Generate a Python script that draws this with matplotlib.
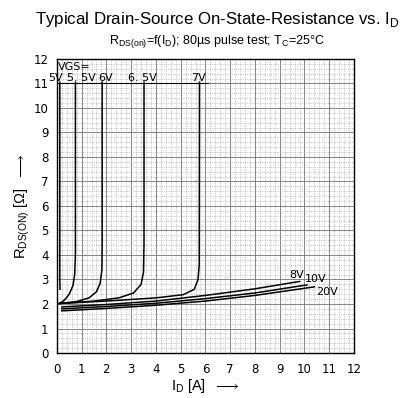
import numpy as np
import matplotlib
matplotlib.use('Agg')
from matplotlib import pyplot as plt
from matplotlib.ticker import MultipleLocator

plt.rcParams['font.family'] = ['Liberation Sans Narrow', 'DejaVu Sans']
plt.rcParams['mathtext.fontset'] = 'custom'
plt.rcParams['mathtext.rm'] = 'Liberation Sans'

# curves: (I_D [A], R_DS(on) [Ohm])
vgs_5v_x = [0.13, 0.12, 0.12]
vgs_5v_y = [2.6, 3.0, 11.05]
vgs_55_x = [0.10, 0.30, 0.50, 0.65, 0.72, 0.75, 0.75]
vgs_55_y = [2.02, 2.15, 2.40, 2.75, 3.20, 4.00, 11.05]
vgs_6v_x = [0.10, 0.80, 1.30, 1.60, 1.75, 1.82, 1.83, 1.83]
vgs_6v_y = [2.02, 2.10, 2.25, 2.50, 2.85, 3.40, 4.50, 11.05]
vgs_65_x = [0.10, 1.50, 2.50, 3.10, 3.40, 3.50, 3.52, 3.52]
vgs_65_y = [2.02, 2.12, 2.25, 2.45, 2.80, 3.30, 4.50, 11.05]
vgs_7v_x = [0.10, 2.00, 4.00, 5.10, 5.55, 5.70, 5.75, 5.76]
vgs_7v_y = [2.02, 2.12, 2.25, 2.38, 2.60, 3.00, 3.60, 11.05]
vgs_8v_x = [0.20, 2.0, 4.0, 6.0, 8.0, 9.8]
vgs_8v_y = [1.88, 1.98, 2.12, 2.35, 2.62, 2.92]
vgs_10v_x = [0.20, 2.0, 4.0, 6.0, 8.0, 10.1]
vgs_10v_y = [1.80, 1.90, 2.03, 2.22, 2.45, 2.78]
vgs_20v_x = [0.20, 2.0, 4.0, 6.0, 8.0, 10.4]
vgs_20v_y = [1.72, 1.82, 1.95, 2.12, 2.35, 2.70]

top_labels = ['5V', '5. 5V', '6V', '6. 5V', '7V']
top_label_x = [-0.05, 1.0, 1.95, 3.45, 5.7]
low_labels = ['8V', '10V', '20V']
low_label_x = [9.7, 10.45, 10.9]
low_label_y = [3.2, 3.0, 2.5]

fig = plt.figure(figsize=(4.06, 3.98), dpi=100)
ax = fig.add_axes([0.140, 0.113, 0.732, 0.739])

for xs, ys in [(vgs_5v_x, vgs_5v_y), (vgs_55_x, vgs_55_y), (vgs_6v_x, vgs_6v_y),
               (vgs_65_x, vgs_65_y), (vgs_7v_x, vgs_7v_y), (vgs_8v_x, vgs_8v_y),
               (vgs_10v_x, vgs_10v_y), (vgs_20v_x, vgs_20v_y)]:
    ax.plot(xs, ys, color='black', lw=1.1)

ax.text(0.05, 11.45, 'VGS=', fontsize=8, ha='left', va='bottom')
for lab, x in zip(top_labels, top_label_x):
    ax.text(x, 11.0, lab, fontsize=8, ha='center', va='bottom')
ax.plot([0, 6.1], [11.0, 11.0], color='black', lw=0.8)
for lab, x, y in zip(low_labels, low_label_x, low_label_y):
    ax.text(x, y, lab, fontsize=8, ha='center', va='center')

ax.set_xlim(0, 12)
ax.set_ylim(0, 12)
ax.xaxis.set_major_locator(MultipleLocator(1))
ax.yaxis.set_major_locator(MultipleLocator(1))
ax.xaxis.set_minor_locator(MultipleLocator(0.2))
ax.yaxis.set_minor_locator(MultipleLocator(0.2))
ax.grid(which='major', color='0.45', lw=0.6)
ax.grid(which='minor', color='0.6', lw=0.5, ls=':')
ax.tick_params(which='both', length=0, labelsize=8.5)
ax.tick_params(axis='x', pad=7)
ax.tick_params(axis='y', pad=6)
for s in ax.spines.values():
    s.set_linewidth(1.0)

ax.set_xlabel(r'I$_\mathrm{D}$ [A]  $\longrightarrow$', fontsize=10.5,
              family='Liberation Sans', labelpad=1)
ax.set_ylabel(r'R$_\mathrm{DS(ON)}$ [$\Omega$]  $\longrightarrow$', fontsize=10.5,
              family='Liberation Sans', labelpad=1)

fig.text(0.535, 0.975, r'Typical Drain-Source On-State-Resistance vs. I$_\mathrm{D}$',
         fontsize=12.2, ha='center', va='top', family='Liberation Sans')
fig.text(0.535, 0.918, r'R$_\mathrm{DS(on)}$=f(I$_\mathrm{D}$); 80µs pulse test; T$_\mathrm{C}$=25°C',
         fontsize=9, ha='center', va='top', family='Liberation Sans')

fig.savefig('out.png', dpi=100)
